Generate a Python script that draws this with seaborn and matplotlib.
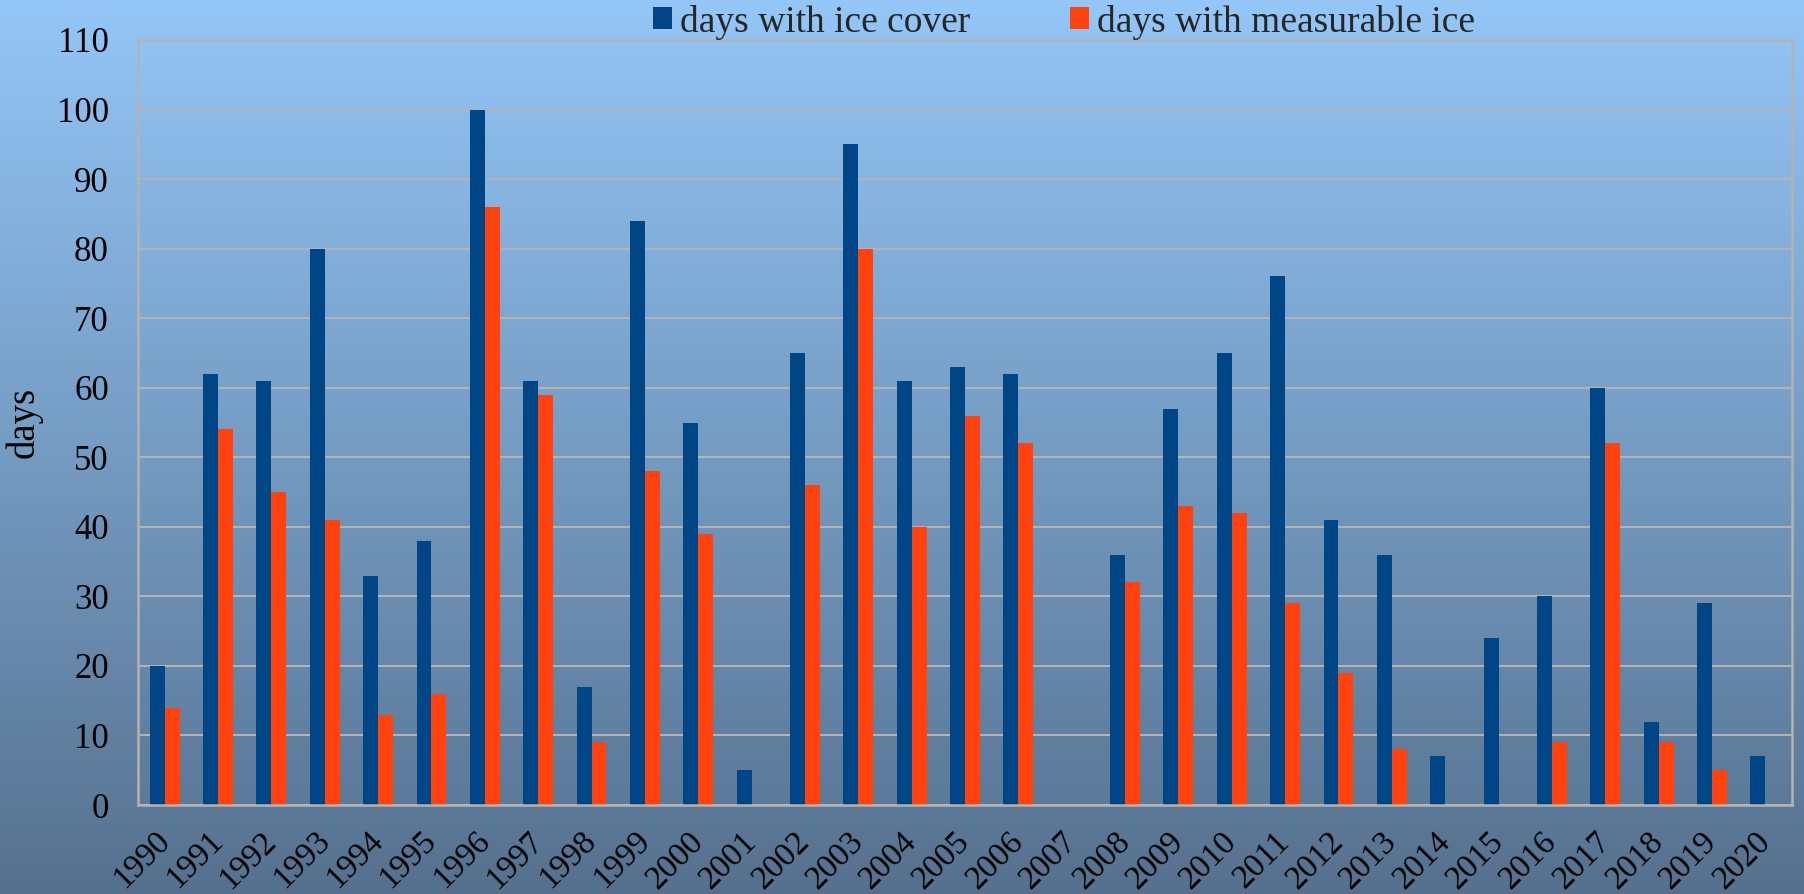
import numpy as np
import pandas as pd
import matplotlib
matplotlib.use("Agg")
import matplotlib.pyplot as plt
import matplotlib.transforms as mtransforms
import seaborn as sns

years = [str(y) for y in range(1990, 2021)]
ice_cover = [20, 62, 61, 80, 33, 38, 100, 61, 17, 84, 55, 5, 65, 95, 61, 63, 62,
             np.nan, 36, 57, 65, 76, 41, 36, 7, 24, 30, 60, 12, 29, 7]
measurable_ice = [14, 54, 45, 41, 13, 16, 86, 59, 9, 48, 39, np.nan, 46, 80, 40, 56, 52,
                  np.nan, 32, 43, 42, 29, 19, 8, np.nan, np.nan, 9, 52, 9, 5, np.nan]
series_names = ["days with ice cover", "days with measurable ice"]
yticks = list(range(0, 111, 10))

df = pd.DataFrame({
    "year": years * 2,
    "days": ice_cover + measurable_ice,
    "series": [series_names[0]] * len(years) + [series_names[1]] * len(years),
})

sns.set_theme(style="white")
plt.rcParams["font.family"] = ["Liberation Serif", "DejaVu Serif"]

W, H, DPI = 1804, 894, 100
fig = plt.figure(figsize=(W / DPI, H / DPI), dpi=DPI)

# gradient background
bg = fig.add_axes([0, 0, 1, 1], zorder=-10)
top = np.array([148, 198, 247]) / 255.0
bot = np.array([86, 113, 142]) / 255.0
t = np.linspace(0, 1, 256)[:, None]
grad = (top[None, :] * (1 - t) + bot[None, :] * t)[:, None, :]
bg.imshow(grad, aspect="auto", extent=[0, 1, 0, 1])
bg.set_axis_off()

ax = fig.add_axes([138 / W, 1 - 805 / H, (1792 - 138) / W, (805 - 40) / H])
ax.patch.set_alpha(0)

sns.barplot(data=df, x="year", y="days", hue="series", order=years,
            hue_order=series_names, palette=["#004586", "#ff420e"],
            width=0.56, gap=0, linewidth=0, saturation=1, ax=ax, legend=True,
            errorbar=None)

ax.set_ylim(0, 110)
ax.set_yticks(yticks)
ax.set_yticklabels([str(v) for v in yticks], fontsize=25)
ax.set_xlim(-0.5, len(years) - 0.5)
ax.grid(axis="y", color="#b3b3b3", linewidth=1.5)
ax.set_axisbelow(True)
for s in ax.spines.values():
    s.set_visible(True)
    s.set_color("#b3b3b3")
    s.set_linewidth(1.8)
ax.tick_params(axis="both", length=0, colors="black")
ax.tick_params(axis="y", pad=21)
ax.tick_params(axis="x", pad=15)
ax.set_xlabel("")
ax.set_ylabel("days", fontsize=28, color="black")
ax.yaxis.set_label_coords(-0.0574, 0.5)

offset = mtransforms.ScaledTranslation(11 / DPI, 0, fig.dpi_scale_trans)
for lab in ax.get_xticklabels():
    lab.set_rotation(45)
    lab.set_ha("right")
    lab.set_va("top")
    lab.set_fontsize(24)
    lab.set_transform(lab.get_transform() + offset)

handles, labels = ax.get_legend_handles_labels()
ax.legend_.remove()
fig.legend(handles, labels, loc="center", bbox_to_anchor=(1064 / W, 1 - 22 / H),
           ncol=2, frameon=False, fontsize=27, handlelength=0.51, handleheight=0.51,
           handletextpad=0.22, columnspacing=2.65, borderaxespad=0)

fig.savefig("out.png", dpi=DPI)
